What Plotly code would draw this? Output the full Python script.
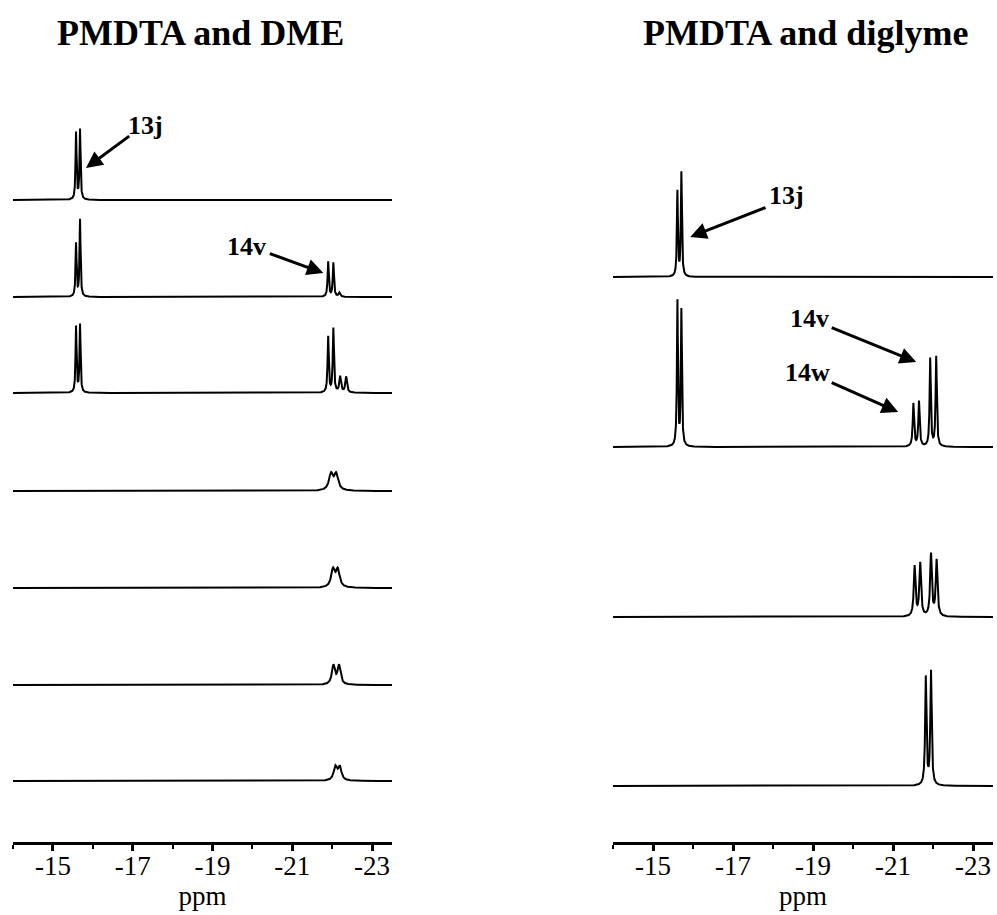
import numpy as np
import plotly.graph_objects as go

# ---------------- data ----------------
ppm_range = [-14.0, -23.5]
major_ticks = [-15, -17, -19, -21, -23]
major_labels = ["-15", "-17", "-19", "-21", "-23"]
minor_ticks = [-14, -16, -18, -20, -22]

# vertical offsets of each stacked spectrum (arbitrary intensity units)
left_offsets = [642, 545, 449, 351, 254, 157, 61]
right_offsets = [565, 395, 225, 56]

# peaks: (shift ppm, amplitude, FWHM ppm)
left_peaks = [
    [(-15.58, 67, 0.03), (-15.68, 70, 0.03)],
    [(-15.58, 53, 0.03), (-15.68, 77, 0.03),
     (-21.90, 35, 0.035), (-22.03, 34, 0.035), (-22.18, 4, 0.05)],
    [(-15.58, 66, 0.03), (-15.68, 68, 0.03),
     (-21.90, 56, 0.035), (-22.03, 64, 0.035),
     (-22.20, 16, 0.05), (-22.35, 16, 0.05)],
    [(-21.97, 16, 0.12), (-22.10, 16, 0.12)],
    [(-22.02, 17.5, 0.11), (-22.14, 17.5, 0.11)],
    [(-22.03, 19, 0.09), (-22.17, 19, 0.09)],
    [(-22.08, 13.5, 0.10), (-22.19, 13.5, 0.10)],
]
right_peaks = [
    [(-15.61, 85, 0.03), (-15.71, 104, 0.03)],
    [(-15.61, 145, 0.03), (-15.71, 136, 0.03),
     (-21.51, 43, 0.04), (-21.65, 45, 0.04),
     (-21.93, 88, 0.035), (-22.08, 90, 0.035)],
    [(-21.54, 50, 0.05), (-21.68, 53, 0.05),
     (-21.95, 62, 0.05), (-22.09, 56, 0.05)],
    [(-21.82, 108, 0.04), (-21.95, 114, 0.04)],
]

titles = ["PMDTA and DME", "PMDTA and diglyme"]

# annotations: (label, text_x, text_y, tail_x, tail_y, head_x, head_y) in data units
left_labels = [
    ("13j", -17.33, 717, -16.95, 707, -15.83, 674),
    ("14v", -19.85, 596, -20.40, 589, -21.78, 569),
]
right_labels = [
    ("13j", -18.33, 647, -17.85, 635, -15.93, 605),
    ("14v", -18.90, 524, -19.43, 515, -21.58, 480),
    ("14w", -18.85, 470, -19.43, 460, -21.13, 430),
]

# ---------------- build ----------------
x = np.linspace(-13.9, -23.6, 6000)


def spectrum(peaks, offset):
    y = np.zeros_like(x)
    for c, a, w in peaks:
        hw = w / 2.0
        y += a / (1.0 + ((x - c) / hw) ** 2)
    return y + offset


fig = go.Figure()
for pk, off in zip(left_peaks, left_offsets):
    fig.add_trace(go.Scatter(x=x, y=spectrum(pk, off), mode="lines",
                             line=dict(color="black", width=2),
                             xaxis="x", yaxis="y", showlegend=False,
                             hoverinfo="skip"))
for pk, off in zip(right_peaks, right_offsets):
    fig.add_trace(go.Scatter(x=x, y=spectrum(pk, off), mode="lines",
                             line=dict(color="black", width=2),
                             xaxis="x2", yaxis="y2", showlegend=False,
                             hoverinfo="skip"))

W, H = 997, 915
axis_px = 842
ydom = [(H - axis_px) / H, 1.0]

serif = "Liberation Serif, Times New Roman, serif"
tickfont = dict(family=serif, size=27, color="black")


def xaxis_cfg(d0, d1, anchor):
    return dict(
        domain=[d0 / W, d1 / W], range=ppm_range, anchor=anchor,
        showline=True, linecolor="black", linewidth=2.5,
        showgrid=False, zeroline=False,
        tickmode="array", tickvals=major_ticks, ticktext=major_labels,
        ticks="outside", ticklen=6, tickwidth=2.5, tickcolor="black",
        tickfont=tickfont, ticklabelstandoff=-8,
        minor=dict(tickmode="array", tickvals=minor_ticks, ticks="outside",
                   ticklen=4, tickwidth=2, tickcolor="black", showgrid=False),
        title=dict(text="ppm", font=tickfont, standoff=0),
    )


def yaxis_cfg(anchor):
    return dict(domain=ydom, range=[0, axis_px], anchor=anchor, visible=False,
                showgrid=False, zeroline=False)


fig.update_layout(
    width=W, height=H, margin=dict(l=0, r=0, t=0, b=0),
    plot_bgcolor="white", paper_bgcolor="white",
    xaxis=xaxis_cfg(13, 392, "y"), yaxis=yaxis_cfg("x"),
    xaxis2=xaxis_cfg(613, 993, "y2"), yaxis2=yaxis_cfg("x2"),
)

annots = []
boldfont = dict(family=serif, size=36, color="black")
for t, cx in zip(titles, [200 / W, 805 / W]):
    annots.append(dict(text="<b>%s</b>" % t, xref="paper", yref="paper",
                       x=cx, y=1 - 33 / H, showarrow=False, font=boldfont,
                       xanchor="center", yanchor="middle"))

labfont = dict(family=serif, size=26, color="black")
for labels, xr, yr in [(left_labels, "x", "y"), (right_labels, "x2", "y2")]:
    for lab, tx, ty, ax_, ay_, hx, hy in labels:
        annots.append(dict(text="<b>%s</b>" % lab, x=tx, y=ty, xref=xr, yref=yr,
                           showarrow=False, font=labfont,
                           xanchor="center", yanchor="middle"))
        annots.append(dict(text="", x=hx, y=hy, ax=ax_, ay=ay_,
                           xref=xr, yref=yr, axref=xr, ayref=yr,
                           showarrow=True, arrowhead=2, arrowsize=1.1,
                           arrowwidth=3, arrowcolor="black"))
fig.update_layout(annotations=annots)

fig.write_html("out.html", config={"displayModeBar": False},
               post_script="document.body.style.margin='0';document.body.style.overflow='hidden';")
